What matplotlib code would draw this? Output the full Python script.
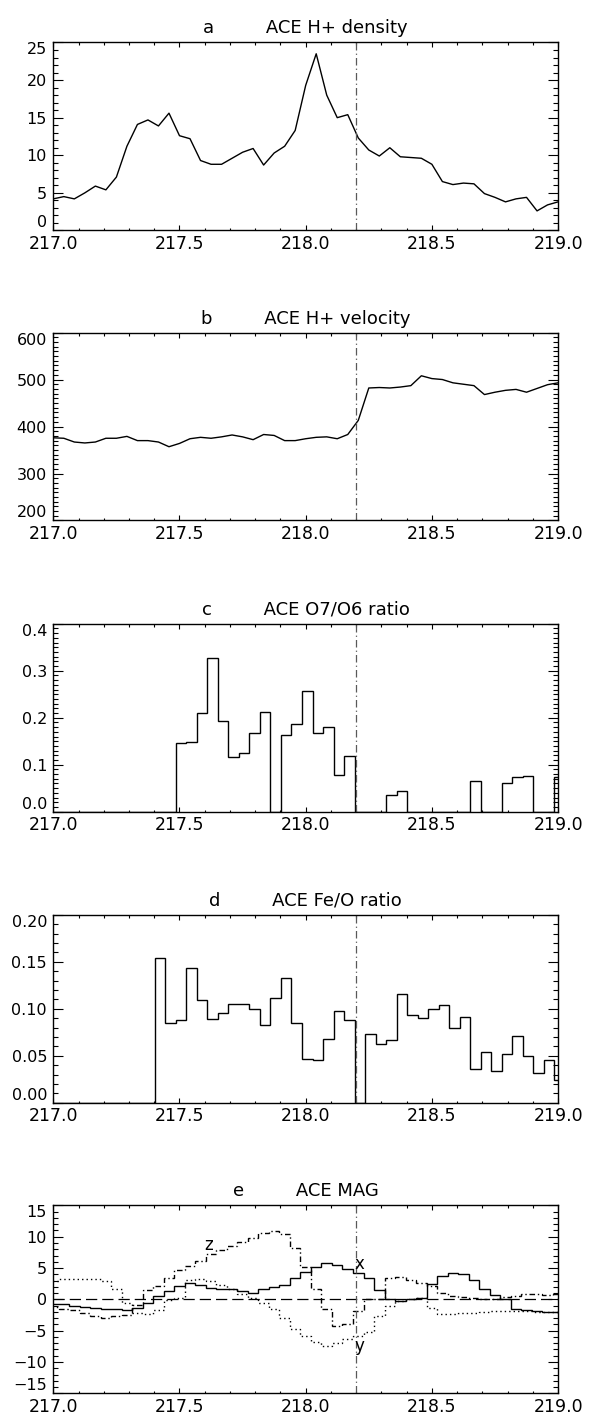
import matplotlib
matplotlib.use("Agg")
import matplotlib.pyplot as plt
import numpy as np

# hourly samples, day 217.0 .. 219.0
hours = np.arange(49)

density = [4.2, 4.5, 4.2, 5.0, 5.9, 5.4, 7.1, 11.2, 14.1, 14.7,
           13.9, 15.6, 12.6, 12.2, 9.3, 8.8, 8.8, 9.6, 10.4, 10.9,
           8.7, 10.3, 11.2, 13.3, 19.3, 23.5, 18.0, 15.0, 15.4, 12.3,
           10.7, 9.9, 11.0, 9.8, 9.7, 9.6, 8.8, 6.5, 6.1, 6.3,
           6.2, 4.9, 4.4, 3.8, 4.2, 4.4, 2.6, 3.4, 3.8]

velocity = [376, 375, 367, 365, 367, 375, 375, 379, 370, 370,
            367, 357, 364, 374, 377, 375, 378, 382, 378, 372,
            383, 381, 370, 370, 374, 377, 378, 374, 383, 413,
            482, 483, 482, 484, 487, 508, 502, 500, 493, 490,
            487, 468, 473, 477, 479, 473, 481, 489, 493]

o7o6 = [0, 0, 0, 0, 0, 0, 0, 0, 0, 0,
        0, 0, 0.146, 0.148, 0.210, 0.327, 0.194, 0.116, 0.124, 0.168,
        0.213, 0, 0.164, 0.186, 0.257, 0.168, 0.181, 0.079, 0.118, 0,
        0, 0, 0.035, 0.045, 0, 0, 0, 0, 0, 0,
        0.066, 0, 0, 0.062, 0.073, 0.075, 0, 0, 0.073]

feo = [0, 0, 0, 0, 0, 0, 0, 0, 0, 0,
       0.154, 0.085, 0.088, 0.143, 0.109, 0.089, 0.095, 0.105, 0.105, 0.100,
       0.083, 0.111, 0.133, 0.085, 0.0465, 0.0457, 0.068, 0.098, 0.088, 0,
       0.073, 0.063, 0.067, 0.116, 0.093, 0.090, 0.100, 0.104, 0.080, 0.091,
       0.036, 0.054, 0.034, 0.052, 0.071, 0.050, 0.032, 0.045, 0.024]

bx = [-0.8, -0.76, -1.08, -1.2, -1.3, -1.46, -1.56, -1.72, -1.3, -0.5,
      0.46, 1.36, 2.2, 2.63, 2.37, 1.84, 1.68, 1.62, 1.41, 1.09,
      1.62, 2.0, 2.37, 3.38, 4.44, 5.18, 5.8, 5.55, 4.84, 4.23,
      3.48, 1.47, 0.03, -0.29, 0.03, 0.19, 2.42, 3.7, 4.23, 4.0,
      3.06, 1.73, 0.75, 0.05, -1.5, -1.7, -1.9, -1.95, -1.95]

by = [2.9, 3.3, 3.3, 3.3, 3.3, 2.95, 1.6, -0.56, -2.14, -2.4,
      -1.7, -0.1, 0.2, 3.05, 3.2, 2.95, 2.37, 1.73, 0.93, 0.24,
      -0.56, -1.6, -3.05, -4.65, -5.9, -6.8, -7.4, -6.9, -6.3, -5.9,
      -5.2, -2.7, -1.1, -0.23, 0.0, 0.14, -1.45, -2.4, -2.35, -2.25,
      -2.14, -2.0, -1.9, -1.8, -1.8, -1.9, -2.0, -2.0, -2.0]

bz = [-1.2, -1.46, -1.7, -2.25, -2.7, -2.9, -2.6, -2.5, -0.9, 1.46,
      2.15, 3.47, 4.75, 5.4, 6.1, 7.3, 7.9, 8.5, 9.2, 9.85,
      10.65, 10.9, 10.5, 8.2, 5.1, 1.73, -1.6, -4.2, -4.0, -1.8,
      0.0, 0.1, 3.4, 3.6, 3.1, 2.6, 2.2, 1.0, 0.6, 0.4,
      0.2, 0.0, 0.1, 0.4, 0.6, 0.8, 0.8, 0.7, 0.8]

shock_day = 218.2

t_plasma = 217 + hours / 24.0
# SWICS hourly bins sit a few minutes after the hour
edges_swics = 217 + (np.arange(50) - 0.5 + 0.15) / 24.0
edges_mag = 217 + (np.arange(50) - 0.5) / 24.0

panels = [
    ("a", "ACE H+ density", (0, 25), [0, 5, 10, 15, 20, 25], 1, "{:.0f}"),
    ("b", "ACE H+ velocity", (200, 600), [200, 300, 400, 500, 600], 10, "{:.0f}"),
    ("c", "ACE O7/O6 ratio", (0, 0.4), [0.0, 0.1, 0.2, 0.3, 0.4], 0.01, "{:.1f}"),
    ("d", "ACE Fe/O ratio", (0, 0.2), [0.0, 0.05, 0.10, 0.15, 0.20], 0.01, "{:.2f}"),
    ("e", "ACE MAG", (-15, 15), [-15, -10, -5, 0, 5, 10, 15], 1, "{:.0f}"),
]

fig = plt.figure(figsize=(5.89, 14.26), dpi=100)
bottoms = [0.8384, 0.635, 0.4308, 0.2267, 0.0229]
axes = []
for b in bottoms:
    axes.append(fig.add_axes([0.0905, b, 0.857, 0.1318]))

axes[0].plot(t_plasma, density, color="black", lw=1.0)
axes[1].plot(t_plasma, velocity, color="black", lw=1.0)
axes[2].stairs(o7o6, edges_swics, baseline=None, color="black", lw=1.0)
axes[3].stairs(feo, edges_swics, baseline=None, color="black", lw=1.0)

ax = axes[4]
ax.axhline(0, color="black", lw=0.9, linestyle=(0, (9, 4)))
ax.stairs(bx, edges_mag, baseline=None, color="black", lw=1.0)
ax.stairs(by, edges_mag, baseline=None, color="black", lw=1.0,
          linestyle=(0, (1, 2.2)))
ax.stairs(bz, edges_mag, baseline=None, color="black", lw=1.0,
          linestyle=(0, (4, 2, 1, 2)))
ax.text(217.617, 8.75, "z", fontsize=12, ha="center", va="center")
ax.text(218.213, 5.7, "x", fontsize=12, ha="center", va="center")
ax.text(218.213, -7.45, "y", fontsize=12, ha="center", va="center")

for ax, (letter, name, ylim, yticks, yminor, fmt) in zip(axes, panels):
    ax.axvline(shock_day, color="0.35", lw=0.9, linestyle=(0, (6, 2.5, 1, 2.5)))
    ax.set_xlim(217.0, 219.0)
    ax.set_ylim(*ylim)
    ax.set_xticks([217.0, 217.5, 218.0, 218.5, 219.0])
    ax.set_xticklabels(["217.0", "217.5", "218.0", "218.5", "219.0"])
    ax.xaxis.set_minor_locator(matplotlib.ticker.MultipleLocator(0.1))
    ax.set_yticks(yticks)
    ax.set_yticklabels([fmt.format(v).replace("-", "\u2212") for v in yticks])
    ax.yaxis.set_minor_locator(matplotlib.ticker.MultipleLocator(yminor))
    ax.tick_params(axis="both", which="both", direction="in",
                   top=True, right=True, width=0.8, color="black")
    ax.tick_params(axis="x", which="major", length=3.6, labelsize=12.5, pad=3)
    ax.tick_params(axis="x", which="minor", length=1.8)
    ax.tick_params(axis="y", which="major", length=7.2, labelsize=11.5, pad=4.5)
    ax.tick_params(axis="y", which="minor", length=3.6)
    for s in ax.spines.values():
        s.set_linewidth(1.0)
    ax.set_title(letter + "         " + name, fontsize=13, pad=6.5)
    # keep end labels inside the frame
    ticks = ax.yaxis.get_major_ticks()
    ticks[0].label1.set_verticalalignment("bottom")
    ticks[-1].label1.set_verticalalignment("top")

fig.savefig("out.png", dpi=100)
